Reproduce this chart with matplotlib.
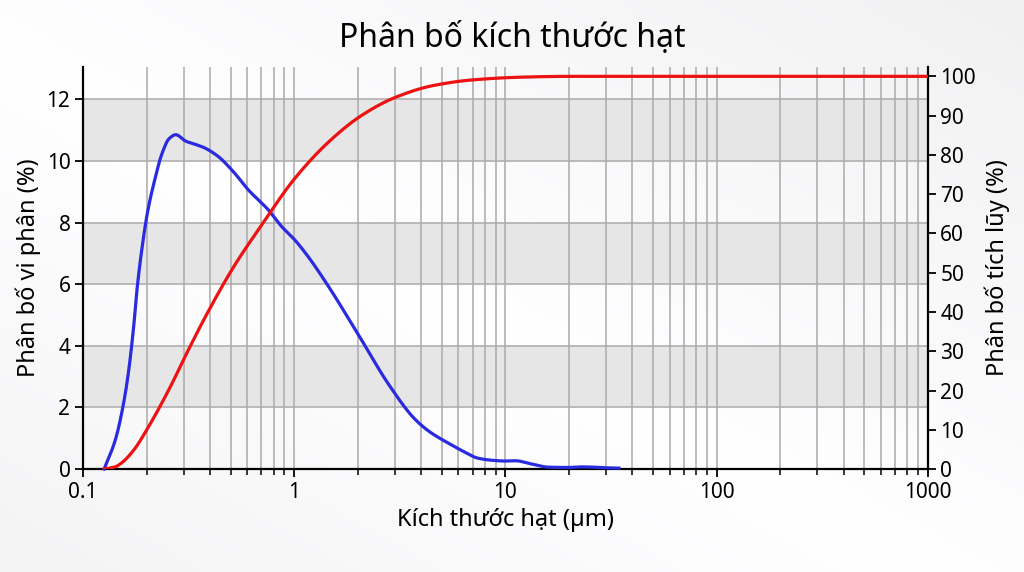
import numpy as np
import matplotlib
matplotlib.use("Agg")
import matplotlib.pyplot as plt
from matplotlib.ticker import LogLocator, NullFormatter, FixedLocator, FixedFormatter

plt.rcParams['font.family'] = ['Noto Sans', 'DejaVu Sans']

# Phân bố vi phân (%) - đường xanh
size_diff = [0.126, 0.1427, 0.156, 0.165, 0.174, 0.181, 0.191, 0.202, 0.217, 0.2377,
             0.2557, 0.275, 0.307, 0.343, 0.375, 0.434, 0.520, 0.603, 0.750, 0.867,
             1.0, 1.16, 1.45, 2.08, 2.8, 3.73, 4.4, 5.37, 6.3, 7.44,
             8.8, 9.97, 11.1, 13.4, 16.0, 20.0, 23.1, 26.5, 30.0, 34.5]
diff_pct = [0.0, 0.97, 2.16, 3.24, 4.65, 5.94, 7.24, 8.32, 9.29, 10.27,
            10.72, 10.85, 10.64, 10.53, 10.43, 10.16, 9.62, 9.08, 8.43, 7.89,
            7.46, 6.91, 5.94, 4.2, 2.75, 1.62, 1.2, 0.84, 0.58, 0.35,
            0.28, 0.26, 0.27, 0.16, 0.06, 0.05, 0.07, 0.06, 0.04, 0.03]

# Phân bố tích lũy (%) - đường đỏ
size_cum = [0.126, 0.1427, 0.1535, 0.175, 0.198, 0.2557, 0.312, 0.389, 0.520, 0.697,
            1.0, 1.45, 2.08, 3.0, 4.5, 7.0, 12.0, 20.0, 100.0, 1000.0]
cum_pct = [0.0, 0.6, 1.7, 5.0, 9.5, 20.3, 29.8, 39.8, 51.7, 61.9,
           73.8, 83.2, 90.0, 94.6, 97.6, 99.1, 99.8, 100.0, 100.0, 100.0]

left_ticks = [0, 2, 4, 6, 8, 10, 12]
right_ticks = list(range(0, 101, 10))
x_ticks = [0.1, 1, 10, 100, 1000]
x_labels = ['0.1', '1', '10', '100', '1000']


def pchip(xs, ys, n=800):
    # nội suy đơn điệu từng đoạn (PCHIP) trên trục log
    x = np.log10(np.asarray(xs, float))
    y = np.asarray(ys, float)
    h = np.diff(x)
    d = np.diff(y) / h
    m = np.zeros_like(y)
    for k in range(1, len(y) - 1):
        if d[k - 1] * d[k] > 0:
            w1 = 2 * h[k] + h[k - 1]
            w2 = h[k] + 2 * h[k - 1]
            m[k] = (w1 + w2) / (w1 / d[k - 1] + w2 / d[k])
    m[0] = d[0]
    m[-1] = d[-1]
    t = np.linspace(x[0], x[-1], n)
    idx = np.clip(np.searchsorted(x, t) - 1, 0, len(h) - 1)
    s = (t - x[idx]) / h[idx]
    h00 = 2 * s**3 - 3 * s**2 + 1
    h10 = s**3 - 2 * s**2 + s
    h01 = -2 * s**3 + 3 * s**2
    h11 = s**3 - s**2
    out = h00 * y[idx] + h10 * h[idx] * m[idx] + h01 * y[idx + 1] + h11 * h[idx] * m[idx + 1]
    return 10 ** t, out


fig = plt.figure(figsize=(10.24, 5.72), dpi=100)

# nền gradient nhạt
bg = fig.add_axes([0, 0, 1, 1])
gx, gy = np.meshgrid(np.linspace(0, 1, 256), np.linspace(0, 1, 256))
g = np.abs(0.5 * gx + 0.5 * (1 - gy) - 0.45)
img = 1.0 - 0.10 * g
bg.imshow(np.dstack([img, img, img * 1.005]).clip(0, 1), aspect='auto',
          extent=[0, 1, 0, 1], origin='upper')
bg.axis('off')

ax = fig.add_axes([0.081, 0.18, 0.825, 0.703])
ax.set_xscale('log')
ax.set_xlim(0.1, 1000)
ax.set_ylim(0, 13.05)
ax.patch.set_alpha(0)

for lo in (2, 6, 10):
    ax.axhspan(lo, lo + 2, color='#e6e6e6', zorder=0, lw=0)

ax.xaxis.set_major_locator(FixedLocator(x_ticks))
ax.xaxis.set_major_formatter(FixedFormatter(x_labels))
ax.xaxis.set_minor_locator(LogLocator(base=10, subs=np.arange(2, 10)))
ax.xaxis.set_minor_formatter(NullFormatter())
ax.set_yticks(left_ticks)

ax.grid(True, which='both', axis='x', color='#aaaaaa', lw=1.1, zorder=1)
ax.grid(True, which='major', axis='y', color='#aaaaaa', lw=1.1, zorder=1)
ax.set_axisbelow(True)

ax.tick_params(axis='both', which='major', direction='out', length=6, width=1.3,
               labelsize=15, colors='black', pad=3)
ax.tick_params(axis='x', which='minor', direction='out', length=4, width=1.1)
for side in ('top', 'right'):
    ax.spines[side].set_visible(False)
for side in ('left', 'bottom'):
    ax.spines[side].set_linewidth(1.6)

bx, by = pchip(size_diff, diff_pct)
ax.plot(bx, by, color='#2a2ae0', lw=2.3, zorder=4, clip_on=False)

ax2 = ax.twinx()
ax2.set_ylim(0, 102.4)
ax2.set_yticks(right_ticks)
ax2.tick_params(axis='y', direction='out', length=6, width=1.3, labelsize=15, pad=3)
for side in ('top', 'left', 'bottom'):
    ax2.spines[side].set_visible(False)
ax2.spines['right'].set_linewidth(1.6)
rx, ry = pchip(size_cum, cum_pct)
ax2.plot(rx, ry, color='#ee1111', lw=2.3, zorder=4)

ax.set_xlabel('Kích thước hạt (µm)', fontsize=17, labelpad=4)
ax.set_ylabel('Phân bố vi phân (%)', fontsize=17, labelpad=4)
ax2.set_ylabel('Phân bố tích lũy (%)', fontsize=17, labelpad=6)
fig.suptitle('Phân bố kích thước hạt', fontsize=23, y=0.962)

fig.savefig('out.png', dpi=100)
